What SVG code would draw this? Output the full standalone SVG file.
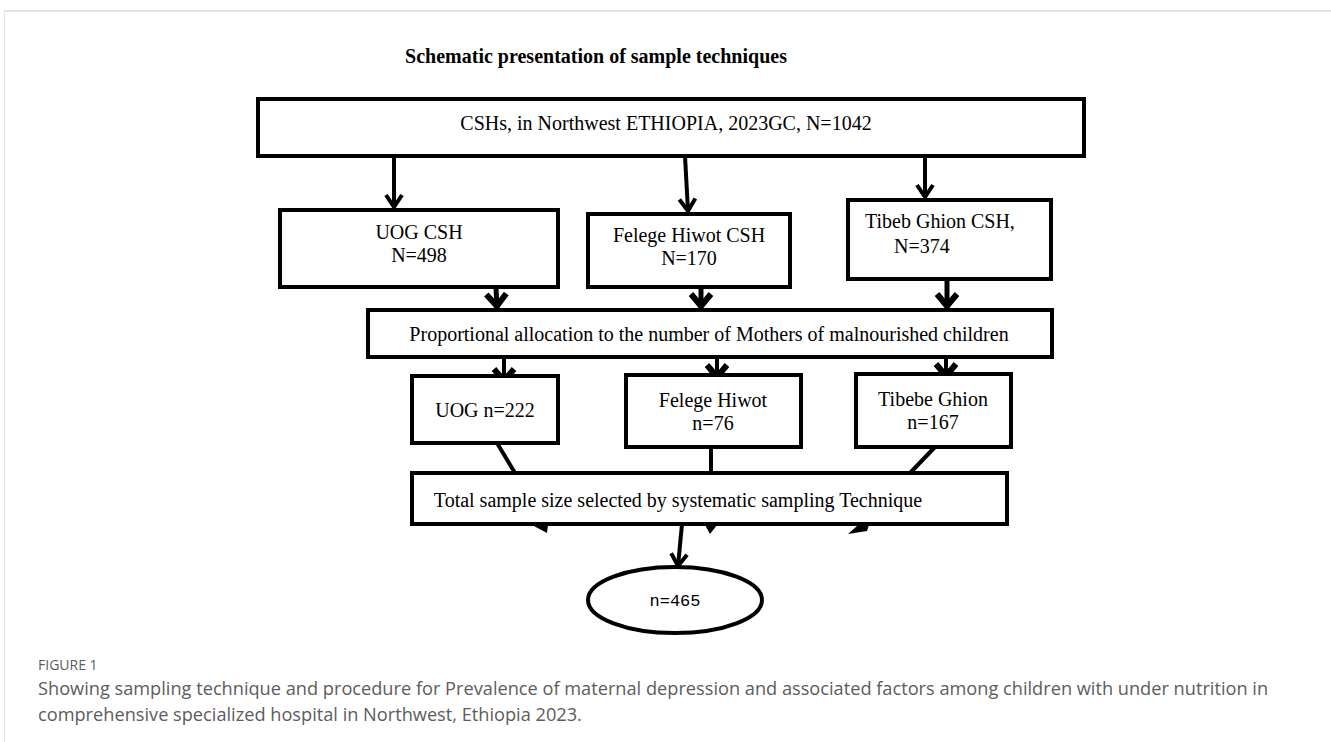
<svg xmlns="http://www.w3.org/2000/svg" width="1331" height="742" viewBox="0 0 1331 742">
<style>
.box{fill:#fff;stroke:#000;stroke-width:4}
.t{font-family:"Liberation Serif","Times New Roman",serif;font-size:20px;fill:#000}
.m{text-anchor:middle}
.ln{stroke:#000;stroke-width:4;fill:none}
.lnb{stroke:#000;stroke-width:5;fill:none}
.cap{font-family:"Open Sans","Noto Sans",sans-serif;fill:#5c5c5c}
</style>
<defs>
<marker id="chev" markerUnits="userSpaceOnUse" viewBox="0 0 24 24" markerWidth="24" markerHeight="24" refX="21" refY="12" orient="auto">
<path d="M9,4 L21,12 L9,20" fill="none" stroke="#000" stroke-width="4"/>
</marker>
<marker id="chevB" markerUnits="userSpaceOnUse" viewBox="0 0 30 30" markerWidth="30" markerHeight="30" refX="26" refY="15" orient="auto">
<path d="M12,5 L24,15 L12,25" fill="none" stroke="#000" stroke-width="6"/>
</marker>
</defs>
<rect width="1331" height="742" fill="#fff"/>
<line x1="4" y1="11" x2="1331" y2="11" stroke="#e2e2e2" stroke-width="2"/>
<line x1="4.5" y1="11" x2="4.5" y2="742" stroke="#e2e2e2" stroke-width="1"/>

<text x="596" y="63" class="t m" font-weight="bold">Schematic presentation of sample techniques</text>

<g id="connectors">
<path class="ln" d="M394,156 L394,207" marker-end="url(#chev)"/>
<path class="ln" d="M685,156 L688,211" marker-end="url(#chev)"/>
<path class="ln" d="M925,156 L925,197" marker-end="url(#chev)"/>
<path class="lnb" d="M496,288 L497,308" marker-end="url(#chevB)"/>
<path class="lnb" d="M701,279 L701,308" marker-end="url(#chevB)"/>
<path class="lnb" d="M947,279 L947,308" marker-end="url(#chevB)"/>
<path class="ln" d="M504,357 L504,383" marker-end="url(#chevB)"/>
<path class="ln" d="M717,357 L717,379" marker-end="url(#chevB)"/>
<path class="ln" d="M946,357 L946,378" marker-end="url(#chevB)"/>
<path class="ln" d="M497,443 L515,473"/>
<path class="ln" d="M711,447 L711,473"/>
<path class="ln" d="M935,447 L910,473"/>
<path class="ln" d="M682,524 L678,566" marker-end="url(#chev)"/>
<polygon points="532,525 548,525 547,533" fill="#000"/>
<polygon points="705,525 717,525 710,534" fill="#000"/>
<polygon points="857,526 869,525 867,531 848,534" fill="#000"/>
</g>

<g id="n-top">
<rect class="box" x="258" y="99" width="826" height="57"/>
<text x="666" y="130" class="t m" font-size="18">CSHs, in Northwest ETHIOPIA, 2023GC, N=1042</text>
</g>
<g id="n-uog-csh">
<rect class="box" x="280" y="210" width="278" height="77"/>
<text x="419" y="239" class="t m">UOG CSH</text>
<text x="419" y="262" class="t m">N=498</text>
</g>
<g id="n-felege-csh">
<rect class="box" x="588" y="214" width="202" height="73"/>
<text x="689" y="242" class="t m">Felege Hiwot CSH</text>
<text x="689" y="265" class="t m">N=170</text>
</g>
<g id="n-tibeb-csh">
<rect class="box" x="848" y="200" width="203" height="79"/>
<text x="865" y="228" class="t">Tibeb Ghion CSH,</text>
<text x="894" y="253" class="t">N=374</text>
</g>
<g id="n-prop">
<rect class="box" x="368" y="310" width="684" height="47"/>
<text x="709" y="341" class="t m" font-size="20.4">Proportional allocation to the number of Mothers of malnourished children</text>
</g>
<g id="n-uog">
<rect class="box" x="412" y="376" width="146" height="67"/>
<text x="485" y="417" class="t m">UOG n=222</text>
</g>
<g id="n-felege">
<rect class="box" x="626" y="375" width="175" height="72"/>
<text x="713" y="407" class="t m">Felege Hiwot</text>
<text x="713" y="430" class="t m">n=76</text>
</g>
<g id="n-tibebe">
<rect class="box" x="856" y="374" width="155" height="73"/>
<text x="933" y="406" class="t m">Tibebe Ghion</text>
<text x="933" y="429" class="t m">n=167</text>
</g>
<g id="n-total">
<rect class="box" x="412" y="473" width="595" height="51"/>
<text x="678" y="507" class="t m" font-size="20.4">Total sample size selected by systematic sampling Technique</text>
</g>
<g id="n-final">
<ellipse cx="675" cy="600" rx="87" ry="33" fill="#fff" stroke="#000" stroke-width="4"/>
<text x="675" y="606" font-family="Liberation Mono,'Courier New',monospace" font-size="17" text-anchor="middle">n=465</text>
</g>

<text x="38" y="670" class="cap" font-size="14" fill="#6a6a6a">FIGURE 1</text>
<text x="38" y="695" class="cap" font-size="18.2">Showing sampling technique and procedure for Prevalence of maternal depression and associated factors among children with under nutrition in</text>
<text x="38" y="721" class="cap" font-size="18.2">comprehensive specialized hospital in Northwest, Ethiopia 2023.</text>
</svg>
